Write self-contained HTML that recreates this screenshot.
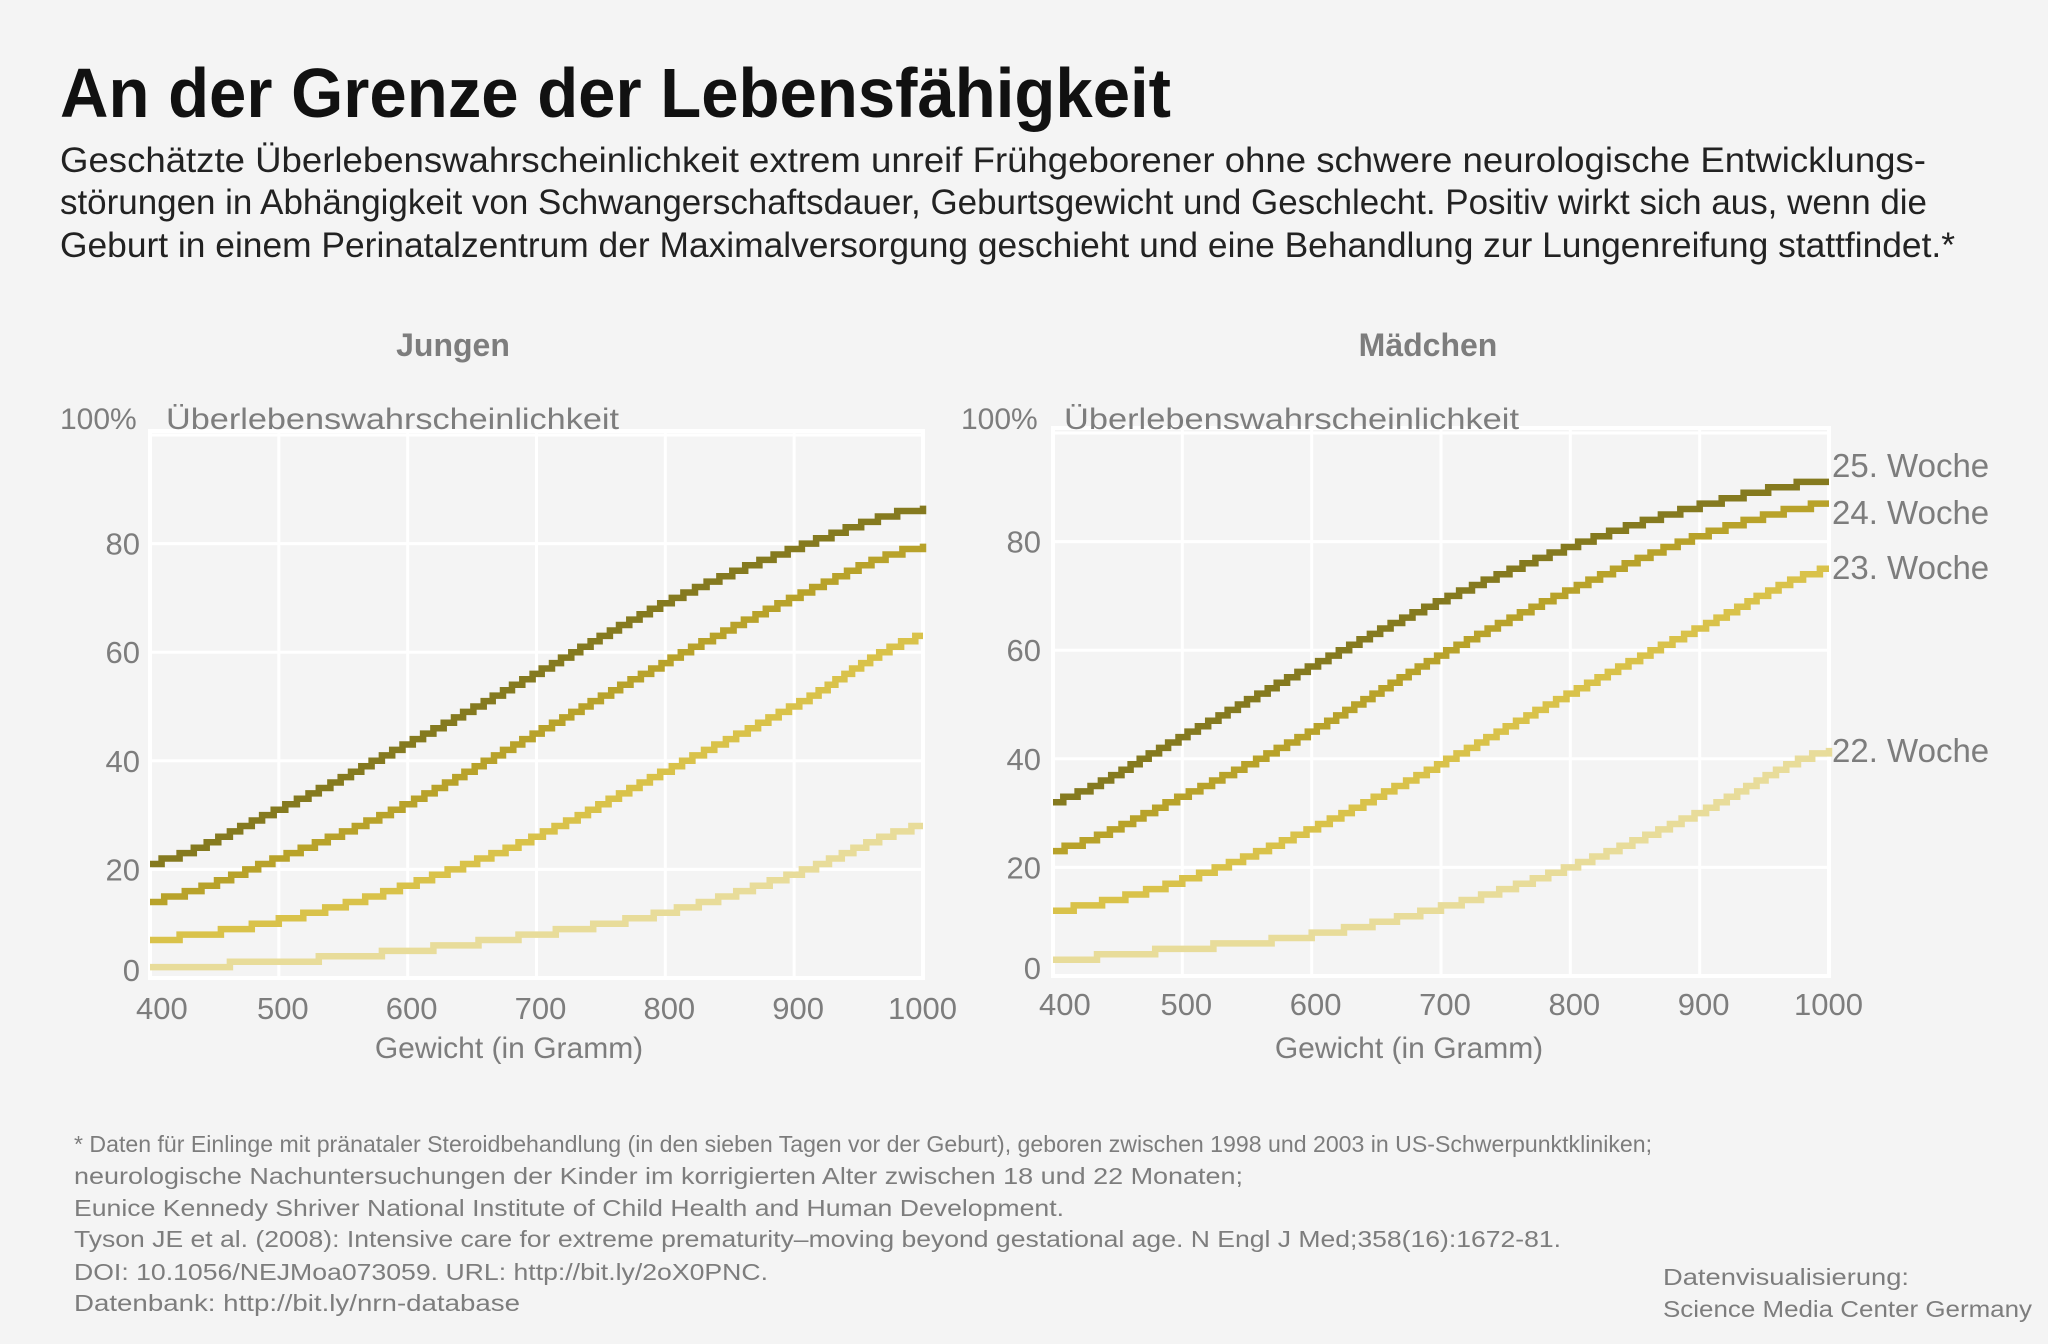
<!DOCTYPE html>
<html><head><meta charset="utf-8">
<style>
html,body{margin:0;padding:0;background:#f4f4f4;}
svg{display:block;}
text{font-family:"Liberation Sans",sans-serif;}
.g{fill:#7d7d7d;}
</style></head>
<body>
<svg id="s" width="2048" height="1344" viewBox="0 0 2048 1344" xmlns="http://www.w3.org/2000/svg">
<rect width="2048" height="1344" fill="#f4f4f4"/>
<text x="60" y="117" font-size="70" font-weight="bold" fill="#111" textLength="1111" lengthAdjust="spacingAndGlyphs">An der Grenze der Lebensfähigkeit</text>
<g font-size="35" fill="#222">
<text x="60" y="172" textLength="1866" lengthAdjust="spacingAndGlyphs">Geschätzte Überlebenswahrscheinlichkeit extrem unreif Frühgeborener ohne schwere neurologische Entwicklungs-</text>
<text x="60" y="214" textLength="1867" lengthAdjust="spacingAndGlyphs">störungen in Abhängigkeit von Schwangerschaftsdauer, Geburtsgewicht und Geschlecht. Positiv wirkt sich aus, wenn die</text>
<text x="60" y="257" textLength="1895" lengthAdjust="spacingAndGlyphs">Geburt in einem Perinatalzentrum der Maximalversorgung geschieht und eine Behandlung zur Lungenreifung stattfindet.*</text>
</g>
<g font-size="32" font-weight="bold" class="g" text-anchor="middle">
<text x="453" y="356">Jungen</text>
<text x="1428" y="356">Mädchen</text>
</g>
<g id="charts"></g>
<g font-size="23" class="g">
<text x="74" y="1152" textLength="1578" lengthAdjust="spacingAndGlyphs">* Daten für Einlinge mit pränataler Steroidbehandlung (in den sieben Tagen vor der Geburt), geboren zwischen 1998 und 2003 in US-Schwerpunktkliniken;</text>
<text x="74" y="1184" textLength="1169" lengthAdjust="spacingAndGlyphs">neurologische Nachuntersuchungen der Kinder im korrigierten Alter zwischen 18 und 22 Monaten;</text>
<text x="74" y="1216" textLength="990" lengthAdjust="spacingAndGlyphs">Eunice Kennedy Shriver National Institute of Child Health and Human Development.</text>
<text x="74" y="1247" textLength="1487" lengthAdjust="spacingAndGlyphs">Tyson JE et al. (2008): Intensive care for extreme prematurity–moving beyond gestational age. N Engl J Med;358(16):1672-81.</text>
<text x="74" y="1280" textLength="694" lengthAdjust="spacingAndGlyphs">DOI: 10.1056/NEJMoa073059. URL: http://bit.ly/2oX0PNC.</text>
<text x="74" y="1311" textLength="446" lengthAdjust="spacingAndGlyphs">Datenbank: http://bit.ly/nrn-database</text>
<text x="1663" y="1285" textLength="246" lengthAdjust="spacingAndGlyphs">Datenvisualisierung:</text>
<text x="1663" y="1317" textLength="369" lengthAdjust="spacingAndGlyphs">Science Media Center Germany</text>
</g>
</svg>
<script>
(function(){
var NS="http://www.w3.org/2000/svg";
var root=document.getElementById("charts");
function el(t,a,txt){var e=document.createElementNS(NS,t);for(var k in a)e.setAttribute(k,a[k]);if(txt!==undefined)e.textContent=txt;root.appendChild(e);return e;}
var cols=["#e8dc9a","#d9c24a","#b8a22a","#857a1f"];
var xs=[400,500,600,700,800,900,1000];
var charts=[
 {x0:150,x1:923,y0:978,yTop:435,top:431,tickR:140,tickY:1008,xlab:509,ylabX:60,ylab2X:166,ylab2L:453,
  data:[[2,3,5,8,12,19,28],[7,10.5,17,26,38,50,63],[14,22,32,45,58,70,79.5],[21,31,43,56,69,79,86.5]]},
 {x0:1053,x1:1829,y0:976,yTop:433,top:428,tickR:1041,tickY:1004,xlab:1409,ylabX:961,ylab2X:1064,ylab2L:455,
  data:[[3,5,7.5,12.5,20,30,41.5],[12,17.5,27,39,52,64,75],[23,33,45,59,71,81,87],[32,44,57,69,79,86.5,91.3]]}
];
charts.forEach(function(c){
 var sx=function(v){return c.x0+(v-400)/600*(c.x1-c.x0);};
 var sy=function(v){return c.y0-v/100*(c.y0-c.yTop);};
 for(var i=1;i<=5;i++){var yy=sy(i*20);el("line",{x1:c.x0,x2:c.x1,y1:yy,y2:yy,stroke:"#fff","stroke-width":3});}
 for(var v=500;v<=900;v+=100){el("line",{x1:sx(v),x2:sx(v),y1:c.top,y2:c.y0,stroke:"#fff","stroke-width":3});}
 el("rect",{x:c.x0,y:c.top,width:c.x1-c.x0,height:c.y0-c.top,fill:"none",stroke:"#fff","stroke-width":4});
 [0,20,40,60,80].forEach(function(t){el("text",{x:c.tickR,y:sy(t)+11-(t==0?8:0),"font-size":31,"text-anchor":"end",fill:"#7d7d7d"},String(t));});
 el("text",{x:c.ylabX,y:429,"font-size":30,fill:"#7d7d7d"},"100%");
 el("text",{x:c.ylab2X,y:429,"font-size":30,fill:"#7d7d7d",textLength:c.ylab2L,lengthAdjust:"spacingAndGlyphs"},"Überlebenswahrscheinlichkeit");
 xs.forEach(function(v){var a="middle",xx=sx(v)+4; if(v==400){a="start";xx=sx(v)-14;} if(v==1000){a="end";xx=sx(v)+34;}
  el("text",{x:xx,y:c.tickY+11,"font-size":31,"text-anchor":a,fill:"#7d7d7d"},String(v));});
 el("text",{x:c.xlab,y:1058,"font-size":30,"text-anchor":"middle",fill:"#7d7d7d"},"Gewicht (in Gramm)");
 c.data.forEach(function(d,si){
  var pts="",prev=null;
  for(var g=400;g<=1000;g+=1){
   var k=Math.min(5,Math.floor((g-400)/100)),f=(g-400-k*100)/100;
   var p0=d[Math.max(0,k-1)],p1=d[k],p2=d[k+1],p3=d[Math.min(6,k+2)];
   var val=0.5*((2*p1)+(-p0+p2)*f+(2*p0-5*p1+4*p2-p3)*f*f+(-p0+3*p1-3*p2+p3)*f*f*f);
   var r=Math.round(val);
   var X=sx(g).toFixed(1),Y=sy(r).toFixed(1);
   if(prev===null){pts+="M"+X+" "+Y;}
   else if(r!==prev){pts+="H"+X+"V"+Y;}
   prev=r;
  }
  pts+="H"+sx(1000).toFixed(1);
  el("path",{d:pts,fill:"none",stroke:cols[si],"stroke-width":6.5,"stroke-linejoin":"miter"});
 });
});
var labs=[["25. Woche",465],["24. Woche",512],["23. Woche",567],["22. Woche",750]];
labs.forEach(function(l){el("text",{x:1832,y:l[1]+12,"font-size":33,fill:"#7d7d7d"},l[0]);});
})();
</script>
</body></html>
